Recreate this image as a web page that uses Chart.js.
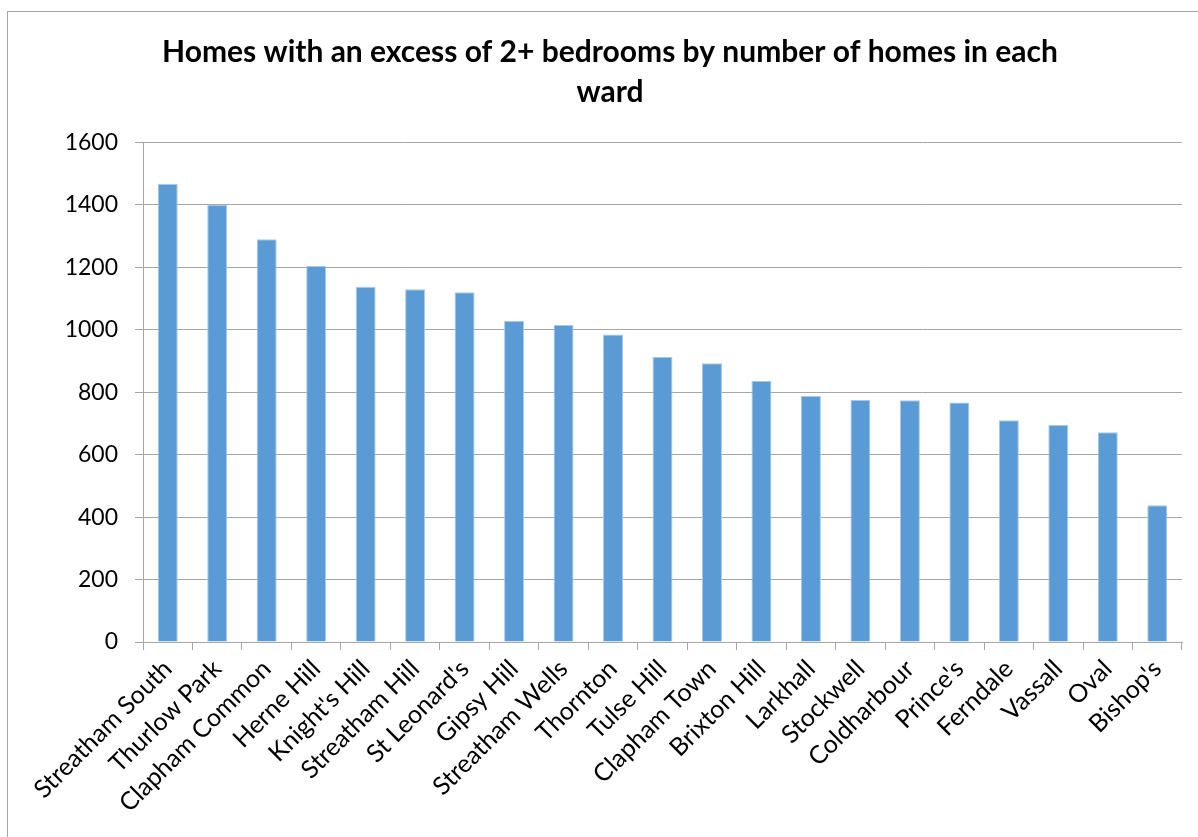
<!DOCTYPE html>
<html>
<head>
<meta charset="utf-8">
<title>Homes with an excess of 2+ bedrooms</title>
<script src="https://cdn.jsdelivr.net/npm/chart.js@4/dist/chart.umd.min.js"></script>
<style>
    body { margin: 0; background: #fff; overflow: hidden; }
    #frame {
        position: absolute; left: 7px; top: 11px;
        width: 1200px; height: 840px;
        border: 1px solid #a6a6a6;
    }
    #chart { position: absolute; left: 0; top: 0; }
</style>
</head>
<body>
<div id="frame"></div>
<canvas id="chart" width="1198" height="837"></canvas>
<script>
const wards = ['Streatham South', 'Thurlow Park', 'Clapham Common', 'Herne Hill', "Knight's Hill",
    'Streatham Hill', "St Leonard's", 'Gipsy Hill', 'Streatham Wells', 'Thornton', 'Tulse Hill',
    'Clapham Town', 'Brixton Hill', 'Larkhall', 'Stockwell', 'Coldharbour', "Prince's",
    'Ferndale', 'Vassall', 'Oval', "Bishop's"];
const homes = [1467, 1400, 1290, 1204, 1138, 1130, 1120, 1028, 1015, 985, 913,
    893, 836, 788, 775, 774, 767, 710, 695, 672, 438];
const yTicks = [0, 200, 400, 600, 800, 1000, 1200, 1400, 1600];

const titleLines = ['Homes with an excess of 2+ bedrooms by number of homes in each', 'ward'];

document.addEventListener('DOMContentLoaded', function() {
    createChart();
});

function createChart() {
    const ctx = document.getElementById('chart').getContext('2d');
    const gridGrey = '#a6a6a6';

    const chartData = {
        labels: wards,
        datasets: [{
            data: homes,
            backgroundColor: '#5b9bd5',
            borderColor: '#a9c9e9',
            borderWidth: 1,
            borderSkipped: 'bottom',
            barPercentage: 0.404,
            categoryPercentage: 1.0
        }]
    };

    const chartConfig = {
        type: 'bar',
        data: chartData,
        options: {
            responsive: false,
            animation: false,
            devicePixelRatio: 1,
            // left padding shifts the title centre right; y axis width makes up the rest
            layout: { padding: { top: 0, right: 16, bottom: 0, left: 38 } },
            plugins: {
                legend: { display: false },
                tooltip: { enabled: false },
                title: {
                    display: true,
                    text: titleLines,
                    color: '#000',
                    font: { family: 'Lato', size: 30, weight: 'bold', lineHeight: 1.34 },
                    padding: { top: 32, bottom: 30 }
                }
            },
            scales: {
                x: {
                    afterFit: function(scale) { scale.height = 195; },
                    grid: {
                        display: true,
                        drawOnChartArea: false,
                        offset: true,
                        color: gridGrey,
                        tickLength: 8
                    },
                    border: { color: gridGrey },
                    ticks: {
                        autoSkip: false,
                        maxRotation: 45,
                        minRotation: 45,
                        color: '#000',
                        padding: 4,
                        font: { family: 'Lato', size: 25 }
                    }
                },
                y: {
                    min: 0,
                    max: 1600,
                    afterFit: function(scale) { scale.width = 105; },
                    afterBuildTicks: function(scale) {
                        scale.ticks = yTicks.map(function(v) { return { value: v }; });
                    },
                    grid: { color: gridGrey, tickLength: 8 },
                    border: { color: gridGrey },
                    ticks: {
                        color: '#000',
                        padding: 17,
                        font: { family: 'Lato', size: 23 },
                        callback: function(value) { return String(value); }
                    }
                }
            }
        }
    };
    new Chart(ctx, chartConfig);
}
</script>
</body>
</html>
